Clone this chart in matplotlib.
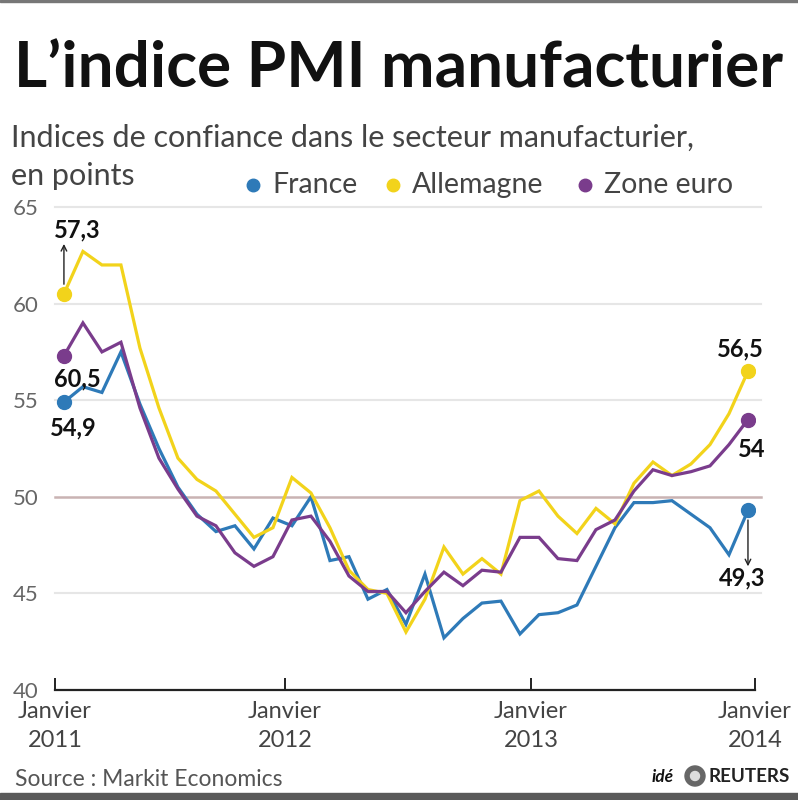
import matplotlib
matplotlib.use("Agg")

import numpy as np
import matplotlib.pyplot as plt
from matplotlib.lines import Line2D
from matplotlib.patches import Rectangle, Circle

# =========================
# DATA (Jan 2011 -> Jan 2014, monthly)
# =========================

france = [54.9, 55.7, 55.4, 57.5, 54.8, 52.5, 50.5, 49.1, 48.2, 48.5, 47.3, 48.9,
          48.5, 50.0, 46.7, 46.9, 44.7, 45.2, 43.4, 46.0, 42.7, 43.7, 44.5, 44.6,
          42.9, 43.9, 44.0, 44.4, 46.4, 48.4, 49.7, 49.7, 49.8, 49.1, 48.4, 47.0,
          49.3]

allemagne = [60.5, 62.7, 62.0, 62.0, 57.7, 54.6, 52.0, 50.9, 50.3, 49.1, 47.9, 48.4,
             51.0, 50.2, 48.4, 46.2, 45.2, 45.0, 43.0, 44.7, 47.4, 46.0, 46.8, 46.0,
             49.8, 50.3, 49.0, 48.1, 49.4, 48.6, 50.7, 51.8, 51.1, 51.7, 52.7, 54.3,
             56.5]

zone_euro = [57.3, 59.0, 57.5, 58.0, 54.6, 52.0, 50.4, 49.0, 48.5, 47.1, 46.4, 46.9,
             48.8, 49.0, 47.7, 45.9, 45.1, 45.1, 44.0, 45.1, 46.1, 45.4, 46.2, 46.1,
             47.9, 47.9, 46.8, 46.7, 48.3, 48.8, 50.3, 51.4, 51.1, 51.3, 51.6, 52.7,
             54.0]

series_names = ["France", "Allemagne", "Zone euro"]
series_colors = ["#2e7ab8", "#f2d31b", "#7a3c8c"]

y_ticks = [40, 45, 50, 55, 60, 65]
x_tick_labels = ["Janvier\n2011", "Janvier\n2012", "Janvier\n2013", "Janvier\n2014"]
# tick marks sit slightly off the month points in the original graphic
x_tick_pos = [-0.47, 11.63, 24.58, 36.37]

# annotations: (series index, month index, label, dx px, dy px, arrow length px)
labels = [
    (1, 0, "57,3", 13, 64, 50),
    (2, 0, "60,5", 13, -23, 0),
    (0, 0, "54,9", 9, -26, 0),
    (1, 36, "56,5", -8, 22, 0),
    (2, 36, "54", 4, -30, 0),
    (0, 36, "49,3", -6, -68, -56),
]

FONT = "Lato"
plt.rcParams["font.family"] = [FONT, "DejaVu Sans"]

W, H = 798, 800
fig = plt.figure(figsize=(W / 100, H / 100), dpi=100)

# =========================
# AXES
# =========================

ax = fig.add_axes([55 / W, 1 - 690 / H, 700 / W, (690 - 207) / H])

months = np.arange(len(france))
data = [france, allemagne, zone_euro]

for vals, col in zip(data, series_colors):
    ax.plot(months, vals, color=col, lw=2.3, solid_joinstyle="miter", zorder=3)
    ax.plot([months[0], months[-1]], [vals[0], vals[-1]], "o", color=col,
            ms=10, zorder=4)

ax.set_xlim(x_tick_pos[0], x_tick_pos[-1])
ax.set_ylim(40, 65)

for yv in y_ticks[1:]:
    col = "#c9b3b3" if yv == 50 else "#e6e6e6"
    ax.axhline(yv, color=col, lw=1.8 if yv == 50 else 1.5, zorder=1,
               xmax=1.008, clip_on=False)

for s in ["top", "right", "left"]:
    ax.spines[s].set_visible(False)
ax.spines["bottom"].set_linewidth(1.6)
ax.spines["bottom"].set_color("#222222")

ax.set_yticks(y_ticks)
ax.set_yticklabels([str(v) for v in y_ticks], fontsize=16, color="#666666")
ax.tick_params(axis="y", length=0, pad=12)

ax.set_xticks(x_tick_pos)
ax.set_xticklabels(x_tick_labels, fontsize=17, color="#444444", linespacing=1.45)
ax.tick_params(axis="x", direction="in", length=9, width=1.4, color="#222222", pad=8)

# =========================
# VALUE LABELS
# =========================

for si, mi, txt, dx, dy, arr in labels:
    yv = data[si][mi]
    ax.annotate(txt, (mi, yv), xytext=(dx, dy), textcoords="offset pixels",
                ha="center", va="center", fontsize=17, fontweight="bold",
                color="#111111", zorder=5)
    if arr:
        ax.annotate("", (mi, yv), xytext=(0, arr), textcoords="offset pixels",
                    arrowprops=dict(arrowstyle="<-", color="#222222", lw=1.0,
                                    shrinkA=0, shrinkB=7), zorder=5)

# =========================
# TITLES / LEGEND
# =========================

fig.text(14 / W, 1 - 87 / H, "L’indice PMI manufacturier", fontsize=46,
         fontweight="bold", color="#111111", ha="left", va="baseline")
fig.text(11 / W, 1 - 147 / H, "Indices de confiance dans le secteur manufacturier,",
         fontsize=22, color="#444444", ha="left", va="baseline")
fig.text(11 / W, 1 - 185 / H, "en points", fontsize=22, color="#444444",
         ha="left", va="baseline")

legend_x = [253, 393, 585]
for name, col, lx in zip(series_names, series_colors, legend_x):
    fig.add_artist(Line2D([lx / W], [1 - 185 / H], marker="o", ms=9, color=col,
                          transform=fig.transFigure))
    fig.text((lx + 19) / W, 1 - 193 / H, name, fontsize=20.5, color="#444444",
             ha="left", va="baseline")

# =========================
# FOOTER
# =========================

fig.text(15 / W, 1 - 786 / H, "Source : Markit Economics", fontsize=16.5,
         color="#555555", ha="left", va="baseline")
fig.text(674 / W, 1 - 782 / H, "idé", fontsize=12.5, fontweight="bold",
         fontstyle="italic", color="#111111", ha="right", va="baseline")
fig.add_artist(Circle((695 / W, 1 - 776 / H), 10 / W, transform=fig.transFigure,
                      color="#666666"))
fig.add_artist(Circle((695 / W, 1 - 776 / H), 4.5 / W, transform=fig.transFigure,
                      color="#dddddd"))
fig.text(709 / W, 1 - 782 / H, "REUTERS", fontsize=13.5, fontweight="bold",
         color="#222222", ha="left", va="baseline")

fig.add_artist(Rectangle((0, 0), 1, 7 / H, transform=fig.transFigure,
                         color="#5a5a5a"))
fig.add_artist(Rectangle((0, 1 - 2 / H), 1, 2 / H, transform=fig.transFigure,
                         color="#777777"))

fig.savefig("out.png", dpi=100)
